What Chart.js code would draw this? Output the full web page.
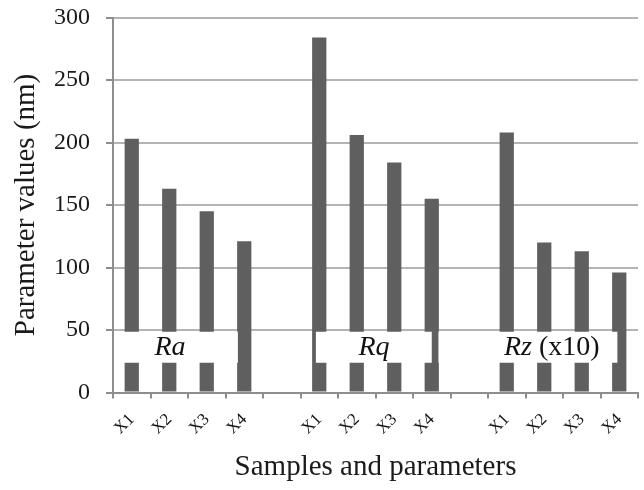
<!DOCTYPE html>
<html>
<head>
<meta charset="utf-8">
<script src="https://cdn.jsdelivr.net/npm/chart.js@4"></script>
<style>
  html, body { margin: 0; padding: 0; background: #fff; }
</style>
</head>
<body>
<canvas id="mygraph" width="644" height="490"></canvas>
<script>
// values (nm); Rz is shown divided by 10
const samples = ['X1', 'X2', 'X3', 'X4']
const groups = ['Ra', 'Rq', 'Rz']
const raValues = [203, 163, 145, 121]
const rqValues = [284, 206, 184, 155]
const rzValues = [208, 120, 113, 96]
const yTicks = [0, 50, 100, 150, 200, 250, 300]

// one empty category between groups
const labels = [...samples, '', ...samples, '', ...samples]
const values = [...raValues, null, ...rqValues, null, ...rzValues]

const serif = "'Liberation Serif', 'Times New Roman', serif"
const axisGrey = '#8e8e8e'

// white label boxes laid over the bars (category index / value units)
const boxes = [
  { name: groups[0], from: -0.47, to: 2.83, mid: 1.02 },
  { name: groups[1], from: 4.91, to: 8.0, mid: 6.46 },
  { name: groups[2], suffix: ' (x10)', from: 8.18, to: 12.95, mid: 11.2 }
]

const groupBoxes = {
  id: 'groupBoxes',
  afterDatasetsDraw(chart) {
    const { ctx, scales: { x, y } } = chart
    ctx.save()
    const top = y.getPixelForValue(48.6)
    const bottom = y.getPixelForValue(23.8)
    boxes.forEach(b => {
      const left = x.getPixelForValue(b.from)
      const right = x.getPixelForValue(b.to)
      ctx.fillStyle = '#ffffff'
      ctx.fillRect(left, top, right - left, bottom - top)

      ctx.fillStyle = '#111'
      ctx.textBaseline = 'middle'
      const cy = (top + bottom) / 2
      ctx.font = 'italic 28px ' + serif
      const w1 = ctx.measureText(b.name).width
      let w2 = 0
      if (b.suffix) {
        ctx.font = '28px ' + serif
        w2 = ctx.measureText(b.suffix).width
      }
      let cx = x.getPixelForValue(b.mid) - (w1 + w2) / 2
      ctx.textAlign = 'left'
      ctx.font = 'italic 28px ' + serif
      ctx.fillText(b.name, cx, cy)
      if (b.suffix) {
        ctx.font = '28px ' + serif
        ctx.fillText(b.suffix, cx + w1, cy)
      }
    })
    ctx.restore()
  }
}

const data = {
  labels: labels,
  datasets: [{
    data: values,
    backgroundColor: '#5f5f5f',
    borderWidth: 0,
    barPercentage: 0.38,
    categoryPercentage: 1.0
  }]
}

const config = {
  type: 'bar',
  data,
  options: {
    responsive: false,
    animation: false,
    layout: { padding: { top: 17.5, right: 6, left: 0, bottom: 0 } },
    plugins: {
      legend: { display: false },
      tooltip: { enabled: false }
    },
    scales: {
      x: {
        grid: {
          drawOnChartArea: false,
          drawTicks: true,
          tickLength: 6,
          tickColor: axisGrey,
          lineWidth: 2
        },
        border: { color: axisGrey, width: 2 },
        ticks: {
          autoSkip: false,
          minRotation: 45,
          maxRotation: 45,
          padding: 11,
          color: '#111',
          font: { family: serif, size: 17 }
        },
        title: {
          display: true,
          text: 'Samples and parameters',
          color: '#1a1a1a',
          font: { family: serif, size: 29 },
          padding: { top: 0, bottom: 5 }
        },
        afterFit: s => {
          s.height = 97.5
          s.paddingLeft = 0
          s.paddingRight = 0
        }
      },
      y: {
        min: 0,
        max: 300,
        afterBuildTicks: s => { s.ticks = yTicks.map(v => ({ value: v })) },
        grid: {
          color: '#b4b4b4',
          lineWidth: 2,
          tickLength: 7,
          tickColor: axisGrey
        },
        border: { color: axisGrey, width: 2 },
        ticks: {
          padding: 16,
          color: '#1a1a1a',
          font: { family: serif, size: 24 }
        },
        title: {
          display: true,
          text: 'Parameter values (nm)',
          color: '#1a1a1a',
          font: { family: serif, size: 29 },
          padding: { top: 9, bottom: 0 }
        },
        afterFit: s => {
          s.width = 113
          s.paddingTop = 0
          s.paddingBottom = 0
        }
      }
    }
  },
  plugins: [groupBoxes]
}

const mygraph = new Chart(document.getElementById('mygraph'), config)
</script>
</body>
</html>
